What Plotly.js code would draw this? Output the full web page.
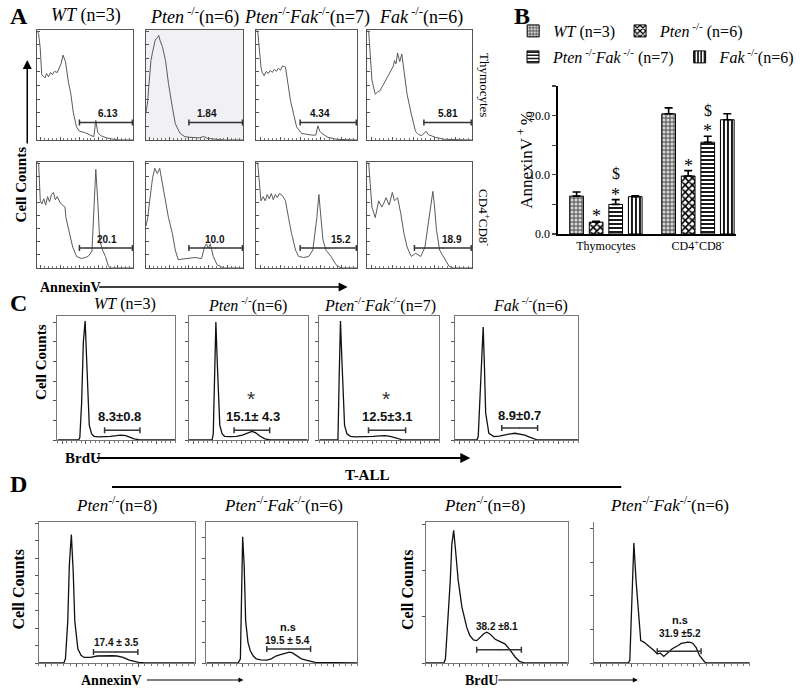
<!DOCTYPE html>
<html><head><meta charset="utf-8">
<script src="https://cdn.plot.ly/plotly-3.0.1.min.js"></script>
<style>html,body{margin:0;padding:0;background:#fff}</style>
</head><body><div id="chart" style="width:800px;height:693px"></div>
<script>
// ================= DATA =================
// Panel B: AnnexinV+ % (mean, SEM)
const groups = ['Thymocytes', 'CD4<sup>+</sup>CD8<sup>-</sup>'];
const genotypeNames = ['<i>WT</i> (n=3)', '<i>Pten</i><sup> -/-</sup> (n=6)', '<i>Pten</i><sup> -/-</sup><i>Fak</i><sup> -/-</sup> (n=7)', '<i>Fak</i><sup> -/-</sup>(n=6)'];
const wtVals = [6.4, 20.3], wtErr = [0.7, 1.0];
const ptenVals = [2.0, 9.8], ptenErr = [0.15, 0.9];
const ptenFakVals = [5.0, 15.5], ptenFakErr = [0.8, 1.0];
const fakVals = [6.3, 19.3], fakErr = [0.15, 1.0];
// significance marks: [group index, genotype index, mark]
const sigMarks = [[0,1,'*'],[0,2,'*'],[0,2,'$'],[1,1,'*'],[1,2,'*'],[1,2,'$']];

// Panel A: AnnexinV histograms, thymocytes
const aWtThyX = [0,1.6,3.3,4.9,8.2,10,12,14,16,18,21,23,25,27,29.5,32.8,35,37.7,41,44,49,54,59,61,63,66,72,79,85,100];
const aWtThyY = [100,98,85,60,57,61,58,62,60,63,62,66,70,78,72,52,43,25,12,8,7,5,3,18,7,4,2,0.7,0,0];
const aPtenThyX = [0,1.7,2.7,5,6.5,8,9.5,11.7,13,14.5,16.7,20,23,27,30,35,40,45,50,55,58,60,63,70,80,100];
const aPtenThyY = [25,36,48,73,80,88,92,94,96,91,86,73,52,30,15,6,3,2.5,2,2,3,3,1.5,0.6,0,0];
const aPtenFakThyX = [0,1.6,4.8,6,8,10,12,14,16,18,20,22,24,26,29,31,34,37,40,45,50,55,59,61,63,65,71,80,100];
const aPtenFakThyY = [100,100,67,62,59,63,61,64,62,65,63,66,64,68,67,55,36,24,12,6,5,4.5,4.5,13,8,6,2.4,0.6,0];
const aFakThyX = [0,1.5,4.6,7.7,10,12,15,18,21,23,25,26,27.5,29,31,33,35,38,42,46,49,52,56,58,65,74,100];
const aFakThyY = [100,100,55,42,44,45,50,55,60,64,68,73,70,80,72,79,64,42,24,8,5,4,8,5,2.4,0.6,0];
// Panel A: AnnexinV histograms, CD4+CD8-
const aWtCdX = [0,1.7,3.4,5,7,9,11,13,15,17,19,21,24,27,29,30,34,37,41,46,50,53,57,59,61,63,65,68,71,74,76,100];
const aWtCdY = [100,100,64,61,66,60,68,63,70,72,65,68,62,60,58,48,33,20,11,9,10,11,16,64,94,64,27,17,11,2,0,0];
const aPtenCdX = [0,1.7,3.3,6.7,9,11.5,14,17,20,23,27,30,33,40,50,57,60,62,64,66,69,73,80,100];
const aPtenCdY = [40,48,61,86,95,90,95,80,64,48,33,17,8,9,10,9,20,23,19,23,11,3,0,0];
const aPtenFakCdX = [0,1.6,4.8,7,9,11,13,15,17,19,21,23,26,29,32,35,39,42,47,52,56,60,62,64,66,69,74,79,84,100];
const aPtenFakCdY = [100,100,64,68,64,70,66,71,65,70,67,71,69,64,48,33,17,11,10,11,17,48,70,48,27,17,11,3,0,0];
const aFakCdX = [0,1.5,4.6,7.7,11,14,16,18,21,24,26,29,32,35,38,42,46,51,55,58,61,62.5,64,66,69,74,78,82,100];
const aFakCdY = [100,100,58,48,64,58,62,67,60,72,64,67,52,33,20,11,14,11,20,42,64,73,60,36,17,8,1.5,0,0];
const aThyGates = [[44,99,16],[44,99,16],[43.5,99,16],[54,99,16]];
const aCdGates = [[44,99,19],[44,99,19],[43.5,99,19],[45,99,19]];
const aThyLabels = ['6.13','1.84','4.34','5.81'];
const aCdLabels = ['20.1','10.0','15.2','18.9'];

// Panel C: BrdU histograms
const cWtX = [0,18,19,20.5,22,23.5,25,27,29,31,35,40,45,50,54,58,62,65,70,100];
const cWtY = [0,0,2,30,80,97,60,12,5,3,2.5,2.5,3,3.5,4,3.5,2,1,0,0];
const cPtenX = [0,19.5,20.5,21.5,22.7,24,26,28,30,35,40,45,50,53,56,60,64,68,100];
const cPtenY = [0,0,5,60,96,60,12,5,3,2.8,3,4,6,7,6,3,1,0,0];
const cPtenFakX = [0,15.5,16.5,17.6,19,21,23,26,30,38,45,50,55,60,65,70,100];
const cPtenFakY = [0,0,50,97,60,12,5,3,2.5,2.5,3,3.3,3.5,2.8,1.2,0,0];
const cFakX = [0,18,19,21,23,24,25,27.6,31.6,36,41,45,48.7,53,56.6,60,63,67,100];
const cFakY = [0,0,3,50,92,60,22,5.5,2.8,3.2,4.4,5,5.5,5,4,2.5,1.4,0,0];
const cGates = [[40,70,8],[38,68,8],[41,72,8],[38,67,9.7]];
const cLabels = ['8.3±0.8','15.1± 4.3','12.5±3.1','8.9±0.7'];

// Panel D: T-ALL AnnexinV and BrdU histograms
const dPtenAnnX = [0,16,17,18.5,19.5,20.8,22,23,25,27,29,33,37.5,41,44,47,50,54,58,61,64,68,100];
const dPtenAnnY = [0,0,3,30,70,92,65,30,10,5.5,4,4,5,5.2,5.4,5.2,5,4,2,1,0.5,0,0];
const dPtenFakAnnX = [0,21,22.5,23.5,24,25,26,27.5,29,31,33,36,40,43,46,49,52.6,55,57,59,61,63,66,68,72,100];
const dPtenFakAnnY = [0,0,3,50,90.5,70,30,15,9,5,3,2.3,2,3,5,6,7,7.8,7.2,6,4.5,3,2,1.4,0.5,0];
const dPtenBrdX = [0,13,14,15.5,17.4,18.5,19.8,21,23,25.6,29,31,33.7,36,38,39.5,41,43,45,46.5,49,51,54,55.8,59,61,63,66,70,100];
const dPtenBrdY = [0,0,3,25,59,85,95,82,59,40,25.5,20,16.5,16,18,19.6,21,22,21,19.6,17,16,14.5,13.7,10,7,4.3,1.2,0,0];
const dPtenFakBrdX = [0,22,23,24.6,25.6,27,28.75,30,32,35,38.5,40.6,42.7,44.8,46.9,50,54,56,58,60,62,63.5,65.6,67.7,71,73,100];
const dPtenFakBrdY = [0,0,2,59,86,59,30,16,15,12.5,9,6.6,7,4.7,6.6,10,12.5,14,14.5,15,14.8,14,11,5.4,0.7,0,0];
const dGates = [[35,63.5,7.8],[40,69,10],[36,67.4,9.5],[40.6,68.75,8.5]];
const dLabels = ['17.4 ± 3.5','19.5 ± 5.4','38.2 ±8.1','31.9 ±5.2'];
const dSig = ['', 'n.s', '', 'n.s'];

const titlesACD = ['<i>WT</i> (n=3)', '<i>Pten</i><sup> -/-</sup>(n=6)', '<i>Pten</i><sup>-/-</sup><i>Fak</i><sup>-/-</sup>(n=7)', '<i>Fak</i><sup> -/-</sup>(n=6)'];
const titlesD = ['<i>Pten</i><sup>-/-</sup>(n=8)', '<i>Pten</i><sup>-/-</sup><i>Fak</i><sup>-/-</sup>(n=6)', '<i>Pten</i><sup>-/-</sup>(n=8)', '<i>Pten</i><sup>-/-</sup><i>Fak</i><sup>-/-</sup>(n=6)'];

// ================= LAYOUT HELPERS =================
const W = 800, H = 693;
const SERIF = 'Liberation Serif', SANS = 'Liberation Sans';
const px = v => v / W, py = v => 1 - v / H;
const traces = [], annotations = [], shapes = [];
const layout = {
  width: W, height: H, margin: {l:0, r:0, t:0, b:0},
  paper_bgcolor: '#fff', plot_bgcolor: 'rgba(0,0,0,0)',
  font: {family: SERIF, color: '#000'},
  barmode: 'group', bargap: 0.15, bargroupgap: 0.3,
  showlegend: true
};
function txt(x, y, text, size, opts) {
  annotations.push(Object.assign({xref:'paper', yref:'paper', x: px(x), y: py(y), text, showarrow:false,
    font:{family:SERIF, size, color:'#000'}, xanchor:'center', yanchor:'middle'}, opts || {}));
}
function arrow(x0, y0, x1, y1, w, head, size) {
  annotations.push({xref:'paper', yref:'paper', x: px(x1), y: py(y1), ax: x0 - x1, ay: y0 - y1,
    axref:'pixel', ayref:'pixel', text:'', showarrow:true, arrowhead: head, arrowsize: size, arrowwidth: w, arrowcolor:'#000'});
}

// ================= PANEL B (bar chart) =================
const barSets = [
  {vals: wtVals, err: wtErr, pat: {shape:'.', bgcolor:'#6e6e6e', fgcolor:'#d8d8d8', size:4, solidity:0.45}},
  {vals: ptenVals, err: ptenErr, pat: {shape:'x', bgcolor:'#ffffff', fgcolor:'#000', size:5, solidity:0.55}},
  {vals: ptenFakVals, err: ptenFakErr, pat: {shape:'-', bgcolor:'#ffffff', fgcolor:'#000', size:4, solidity:0.45}},
  {vals: fakVals, err: fakErr, pat: {shape:'|', bgcolor:'#ffffff', fgcolor:'#000', size:4, solidity:0.45}}
];
barSets.forEach((s, i) => {
  traces.push({type:'bar', x: groups, y: s.vals, name: genotypeNames[i], xaxis:'x', yaxis:'y',
    legend: i < 2 ? 'legend' : 'legend2',
    marker: {color: s.pat.bgcolor, line:{color:'#000', width:1}, pattern: s.pat},
    error_y: {type:'data', symmetric:false, array: s.err, arrayminus: s.err.map(() => 0), color:'#000', thickness:1.6, width:4}});
});
layout.xaxis = {domain:[px(573), px(756)], anchor:'y', type:'category', range:[-0.521, 1.415],
  showline:true, linecolor:'#000', linewidth:1.5, ticks:'', showgrid:false, zeroline:false,
  tickfont:{family:SERIF, size:12, color:'#000'}};
layout.yaxis = {domain:[py(234), py(86)], anchor:'x', range:[0,25], showline:true, linecolor:'#000', linewidth:1.5,
  ticks:'outside', ticklen:4, tickwidth:1.2, dtick:10, tick0:0, tickformat:'.1f', showgrid:false, zeroline:false,
  minor:{dtick:5, ticks:'outside', ticklen:4, tickwidth:1.2, showgrid:false},
  tickfont:{family:SERIF, size:12, color:'#000'}};
layout.legend = {orientation:'h', x: px(527), y: py(14), xanchor:'left', yanchor:'top', bgcolor:'rgba(0,0,0,0)',
  font:{family:SERIF, size:16, color:'#000'}, itemclick:false, traceorder:'normal'};
layout.legend2 = {orientation:'h', x: px(527), y: py(40), xanchor:'left', yanchor:'top', bgcolor:'rgba(0,0,0,0)',
  font:{family:SERIF, size:16, color:'#000'}, itemclick:false, traceorder:'normal'};
const slot = (1 - layout.bargap) / 4;
const allVals = [wtVals, ptenVals, ptenFakVals, fakVals], allErr = [wtErr, ptenErr, ptenFakErr, fakErr];
sigMarks.forEach(([g, k, m]) => {
  const top = allVals[k][g] + allErr[k][g];
  annotations.push({xref:'x', yref:'y', x: g + (k - 1.5) * slot, y: top, text: m, showarrow:false,
    yanchor:'middle', yshift: m === '$' ? 26 : 5, borderpad:0,
    font:{family:SERIF, size: m === '$' ? 16 : 18, color:'#000'}});
});
txt(539, 160, 'AnnexinV<sup> + </sup>%', 17, {textangle: -90});

// ================= HISTOGRAM PANELS =================
const panels = [
  // A, thymocytes
  {x:aWtThyX, y:aWtThyY, gate:aThyGates[0], label:aThyLabels[0], lx:74, ly:24, box:[38,137,30,140], kind:'A'},
  {x:aPtenThyX, y:aPtenThyY, gate:aThyGates[1], label:aThyLabels[1], lx:63, ly:24, box:[150,250,30,140], kind:'A', bg:true},
  {x:aPtenFakThyX, y:aPtenFakThyY, gate:aThyGates[2], label:aThyLabels[2], lx:63, ly:24, box:[263,367,30,140], kind:'A'},
  {x:aFakThyX, y:aFakThyY, gate:aThyGates[3], label:aThyLabels[3], lx:77, ly:24, box:[377,485,30,140], kind:'A'},
  // A, CD4+CD8-
  {x:aWtCdX, y:aWtCdY, gate:aCdGates[0], label:aCdLabels[0], lx:73, ly:27, box:[38,137,162,268], kind:'A'},
  {x:aPtenCdX, y:aPtenCdY, gate:aCdGates[1], label:aCdLabels[1], lx:71, ly:27, box:[150,250,162,268], kind:'A'},
  {x:aPtenFakCdX, y:aPtenFakCdY, gate:aCdGates[2], label:aCdLabels[2], lx:84, ly:27, box:[263,367,162,268], kind:'A'},
  {x:aFakCdX, y:aFakCdY, gate:aCdGates[3], label:aCdLabels[3], lx:81, ly:27, box:[377,485,162,268], kind:'A'},
  // C
  {x:cWtX, y:cWtY, gate:cGates[0], label:cLabels[0], lx:53, ly:19, box:[59,180,316,440], kind:'C'},
  {x:cPtenX, y:cPtenY, gate:cGates[1], label:cLabels[1], lx:54, ly:19, box:[194,316,316,440], kind:'C', star:[52,34]},
  {x:cPtenFakX, y:cPtenFakY, gate:cGates[2], label:cLabels[2], lx:57, ly:19, box:[328,451,316,440], kind:'C', star:[56,34]},
  {x:cFakX, y:cFakY, gate:cGates[3], label:cLabels[3], lx:52, ly:20, box:[467,594,316,440], kind:'C'},
  // D
  {x:dPtenAnnX, y:dPtenAnnY, gate:dGates[0], label:dLabels[0], lx:50, ly:15, box:[40,200,522,663], kind:'D', ytick:12.5},
  {x:dPtenFakAnnX, y:dPtenFakAnnY, gate:dGates[1], label:dLabels[1], lx:54, ly:16, box:[212,367,522,663], kind:'D', ytick:15, sig:dSig[1]},
  {x:dPtenBrdX, y:dPtenBrdY, gate:dGates[2], label:dLabels[2], lx:50, ly:26, box:[437,583,522,663], kind:'D', ytick:33},
  {x:dPtenFakBrdX, y:dPtenFakBrdY, gate:dGates[3], label:dLabels[3], lx:55, ly:21, box:[610,770,522,663], kind:'D', ytick:24, sig:dSig[3], open:true}
];

panels.forEach((p, i) => {
  const k = i + 2, xa = 'x' + k, ya = 'y' + k;
  const [l, r, t, b] = p.box;
  const isA = p.kind === 'A';
  const frame = isA ? '#555' : '#777';
  const lineCol = isA ? '#5a5a5a' : '#111';
  layout['xaxis' + k] = {domain:[px(l), px(r)], anchor: ya, range:[0,100], showline:true, mirror: !p.open,
    linecolor: frame, linewidth: 1, showgrid:false, zeroline:false, showticklabels:false,
    ticks: isA ? 'inside' : 'outside', ticklen: 3, tickcolor:'#555', dtick: 20, tick0: 4,
    minor:{dtick: 4, ticks: isA ? 'inside' : 'outside', ticklen: 2, tickcolor:'#777'}, fixedrange:true};
  layout['yaxis' + k] = {domain:[py(b), py(t)], anchor: xa, range:[0,101], showline:true, mirror: !p.open,
    linecolor: frame, linewidth: 1, showgrid:false, zeroline:false, showticklabels:false,
    ticks: isA ? 'inside' : 'outside', ticklen: 3, tickcolor:'#555', dtick: isA ? 12.5 : (p.ytick || 16), tick0: 0, fixedrange:true};
  if (p.bg) shapes.push({type:'rect', xref: xa + ' domain', yref: ya + ' domain', x0:0, x1:1, y0:0, y1:1,
    fillcolor:'#f1f1f5', line:{width:0}, layer:'below'});
  traces.push({type:'scatter', mode:'lines', x: p.x, y: p.y, xaxis: xa, yaxis: ya, showlegend:false,
    line:{color: lineCol, width: isA ? 1 : 1.3, shape:'linear'}, hoverinfo:'skip'});
  const [g0, g1, gl] = p.gate;
  traces.push({type:'scatter', mode:'markers', x:[(g0 + g1) / 2], y:[gl], xaxis: xa, yaxis: ya, showlegend:false,
    marker:{size:1, color:'#222'}, hoverinfo:'skip',
    error_x:{type:'data', symmetric:true, array:[(g1 - g0) / 2], color:'#333', thickness: 1.5, width: 3}});
  const lsize = isA ? 10 : (p.kind === 'C' ? 13 : 10);
  annotations.push({xref: xa, yref: ya, x: p.lx, y: p.ly, text: '<b>' + p.label + '</b>', showarrow:false,
    font:{family:SANS, size: lsize, color:'#111'}});
  if (p.star) annotations.push({xref: xa, yref: ya, x: p.star[0], y: p.star[1], text:'*', showarrow:false,
    font:{family:SANS, size:21, color:'#333'}});
  if (p.sig) annotations.push({xref: xa, yref: ya, x: p.lx, y: p.ly + 10, text:'<b>' + p.sig + '</b>', showarrow:false,
    font:{family:SANS, size:11, color:'#111'}});
});

// ================= TEXT, ARROWS, LINES =================
txt(19, 16, '<b>A</b>', 24); txt(536, 16, '<b>B</b>', 24); txt(19, 303, '<b>C</b>', 24); txt(19, 484, '<b>D</b>', 24);
[88, 200, 315, 432].forEach((x, i) => txt(x, 16, titlesACD[i], 18));
[128, 254, 390, 545].forEach((x, i) => txt(x, 304, titlesACD[i], 16));
[120, 291, 498, 688].forEach((x, i) => txt(x, 504, titlesD[i], 17));
txt(498, 85, 'Thymocytes', 13, {textangle: 90});
txt(498, 218, 'CD4<sup>+</sup>CD8<sup>-</sup>', 13, {textangle: 90});
txt(22, 184, '<b>Cell Counts</b>', 15, {textangle: -90});
arrow(28, 145, 28, 60, 1.5, 2, 1.2);
txt(72, 287, '<b>AnnexinV</b>', 14);
arrow(107, 287, 357, 287, 1.5, 2, 1.2);
txt(42, 362, '<b>Cell Counts</b>', 15, {textangle: -90});
txt(85, 458, '<b>BrdU</b>', 15);
arrow(108, 458, 483, 458, 2, 2, 1);
txt(377, 475, '<b>T-ALL</b>', 15);
shapes.push({type:'line', xref:'paper', yref:'paper', x0: px(115), x1: px(638), y0: py(487), y1: py(487), line:{color:'#000', width:2}});
txt(18, 590, '<b>Cell Counts</b>', 16, {textangle: -90});
txt(418, 590, '<b>Cell Counts</b>', 16, {textangle: -90});
txt(115, 680, '<b>AnnexinV</b>', 14);
arrow(152, 680, 250, 680, 1, 2, 1);
txt(494, 680, '<b>BrdU</b>', 14);
arrow(514, 680, 655, 680, 1, 2, 1);

layout.annotations = annotations;
layout.shapes = shapes;
Plotly.newPlot('chart', traces, layout, {displayModeBar:false, staticPlot:true});
</script>
</body></html>
